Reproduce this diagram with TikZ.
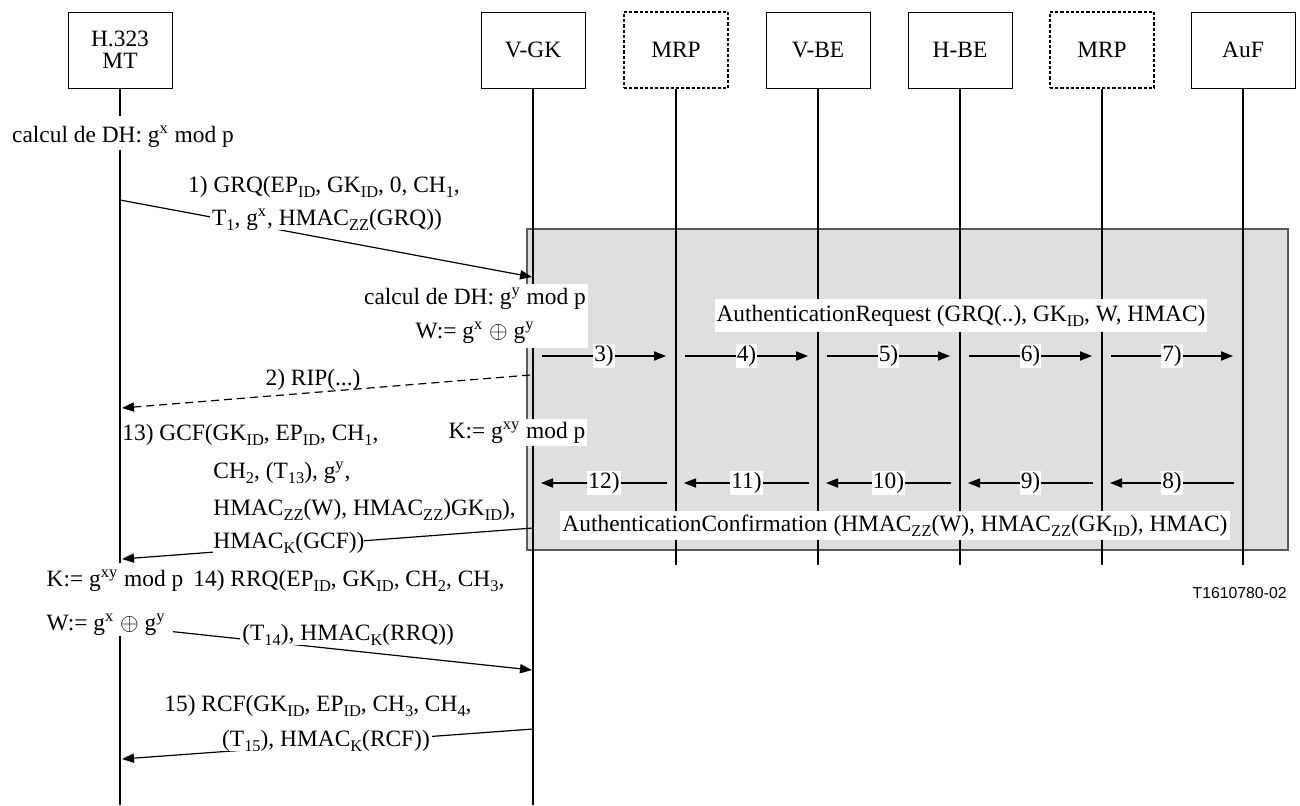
\documentclass[tikz,border=0pt]{standalone}
\usepackage{fontspec}
\setmainfont{Liberation Serif}
\newfontfamily\labelsans{Liberation Sans}
\usetikzlibrary{arrows.meta}
\newcommand{\sbs}[1]{\raisebox{-2.6pt}{\fontsize{8.2}{9}\selectfont #1}}
\newcommand{\sps}[1]{\textsuperscript{#1}}
\definecolor{boxgrey}{HTML}{DFDFDF}
\begin{document}
\begin{tikzpicture}[x=0.5pt,y=-0.5pt, font=\fontsize{11.7}{17}\selectfont,
  hdr/.style={draw, line width=0.5pt, minimum width=52pt, minimum height=38pt, inner sep=0pt, align=center, font=\fontsize{11.7}{11}\selectfont},
  hdrd/.style={hdr, dash pattern=on 1.6pt off 1pt, line width=0.7pt},
  life/.style={line width=1pt},
  msg/.style={line width=0.6pt, -{Triangle[length=6pt,width=4.6pt]}},
  rmsg/.style={msg, dash pattern=on 4pt off 2.5pt},
  lbl/.style={fill=white, inner sep=0.6pt},
  txt/.style={inner sep=0pt},
  wtxt/.style={fill=white, inner xsep=1pt, inner ysep=1.5pt}]
\useasboundingbox (0,0) rectangle (1300,805);

% grey region
\fill[boxgrey, draw=black!65, line width=0.6pt] (527,229) rectangle (1288,550);

% headers
\node[hdr] (mt) at (120,50) {H.323\\MT};
\node[hdr] (vgk) at (533,50) {V-GK};
\node[hdrd] (mrpa) at (676,50) {MRP};
\node[hdr] (vbe) at (818,50) {V-BE};
\node[hdr] (hbe) at (960,50) {H-BE};
\node[hdrd] (mrpb) at (1102,50) {MRP};
\node[hdr] (auf) at (1243,50) {AuF};

% lifelines
\coordinate (mt1) at (120,116);
\coordinate (mt2) at (120,150);
\coordinate (mt3) at (120,563);
\coordinate (mt4) at (120,633);
\coordinate (mt5) at (120,805);
\draw[life] (mt.south) -- (mt1);
\draw[life] (mt2) -- (mt3);
\draw[life] (mt4) -- (mt5);
\coordinate (vgk-end) at (533,805);
\draw[life] (vgk.south) -- (vgk-end);
\foreach \n in {mrpa,vbe,hbe,mrpb,auf}{
  \coordinate (\n-end) at (\n.south |- 0,565);
  \draw[life] (\n.south) -- (\n-end);
}

% messages
\coordinate (m1s) at (120,200);
\coordinate (m1e) at (532,277);
\draw[msg] (m1s) -- (m1e);
\coordinate (m2s) at (530,375);
\coordinate (m2e) at (122,408);
\draw[rmsg] (m2s) -- (m2e);
\coordinate (m13s) at (533,528);
\coordinate (m13e) at (122,559);
\draw[msg] (m13s) -- (m13e);
\coordinate (m14s) at (120,626);
\coordinate (m14e) at (532,670);
\draw[msg] (m14s) -- (m14e);
\coordinate (m15s) at (533,729);
\coordinate (m15e) at (122,759);
\draw[msg] (m15s) -- (m15e);

\foreach \i/\xa/\xb in {3/533/676, 4/676/818, 5/818/960, 6/960/1102, 7/1102/1243}{
  \coordinate (f\i-s) at (\xa+9,356);
  \coordinate (f\i-e) at (\xb-10,356);
  \draw[msg] (f\i-s) -- node[lbl]{\i)} (f\i-e);
}
\foreach \i/\xa/\xb in {8/1102/1243, 9/960/1102, 10/818/960, 11/676/818, 12/533/676}{
  \coordinate (r\i-s) at (\xb-9,483);
  \coordinate (r\i-e) at (\xa+8,483);
  \draw[msg] (r\i-s) -- node[lbl]{\i)} (r\i-e);
}

% texts
\node[txt, anchor=base] (dhx) at (123,142) {calcul de DH: g\sps{x} mod p};
\node[txt, anchor=base] (g1) at (324,192) {1) GRQ(EP\sbs{ID}, GK\sbs{ID}, 0, CH\sbs{1},};
\node[txt, anchor=base, fill=white, inner xsep=1pt] (g2) at (327,225) {T\sbs{1}, g\sps{x}, HMAC\sbs{ZZ}(GRQ))};
\node[fill=white, align=center, inner xsep=1pt, inner ysep=2pt] (dhy) at (475,316) {calcul de DH: g\sps{y} mod p\\W:= g\sps{x} $\oplus$ g\sps{y}};
\node[txt, fill=white, inner xsep=1pt, inner ysep=3pt, anchor=base] (areq) at (961,321) {AuthenticationRequest (GRQ(..), GK\sbs{ID}, W, HMAC)};
\node[txt, anchor=base] (rip) at (313,385) {2) RIP(...)};
\node[wtxt, anchor=base] (kv) at (517,438) {K:= g\sps{xy} mod p};
\node[txt, anchor=base west] (c1) at (122,440) {13) GCF(GK\sbs{ID}, EP\sbs{ID}, CH\sbs{1},};
\node[txt, anchor=base west] (c2) at (213,478) {CH\sbs{2}, (T\sbs{13}), g\sps{y},};
\node[txt, anchor=base west] (c3) at (213,515) {HMAC\sbs{ZZ}(W), HMAC\sbs{ZZ})GK\sbs{ID}),};
\node[txt, anchor=base west, fill=white, inner ysep=0.5pt] (c4) at (213,548) {HMAC\sbs{K}(GCF))};
\node[txt, fill=white, inner xsep=1pt, inner ysep=2pt, anchor=base] (aconf) at (895,531) {AuthenticationConfirmation (HMAC\sbs{ZZ}(W), HMAC\sbs{ZZ}(GK\sbs{ID}), HMAC)};
\node[txt, anchor=base] (kl) at (115,586) {K:= g\sps{xy} mod p};
\node[txt, anchor=base west] (r1) at (193,586) {14) RRQ(EP\sbs{ID}, GK\sbs{ID}, CH\sbs{2}, CH\sbs{3},};
\node[fill=white, inner xsep=4pt, inner ysep=0.5pt, anchor=base] (wl) at (106,630) {W:= g\sps{x} $\oplus$ g\sps{y}};
\node[txt, anchor=base west, fill=white, inner xsep=1pt] (r2) at (240,640) {(T\sbs{14}), HMAC\sbs{K}(RRQ))};
\node[txt, anchor=base] (s1) at (318,711) {15) RCF(GK\sbs{ID}, EP\sbs{ID}, CH\sbs{3}, CH\sbs{4},};
\node[txt, anchor=base, fill=white, inner xsep=1pt] (s2) at (326,746) {(T\sbs{15}), HMAC\sbs{K}(RCF))};
\node[txt, anchor=base east, font=\labelsans\fontsize{7.9}{9}\selectfont] (ref) at (1287,598) {T1610780-02};
\end{tikzpicture}
\end{document}
